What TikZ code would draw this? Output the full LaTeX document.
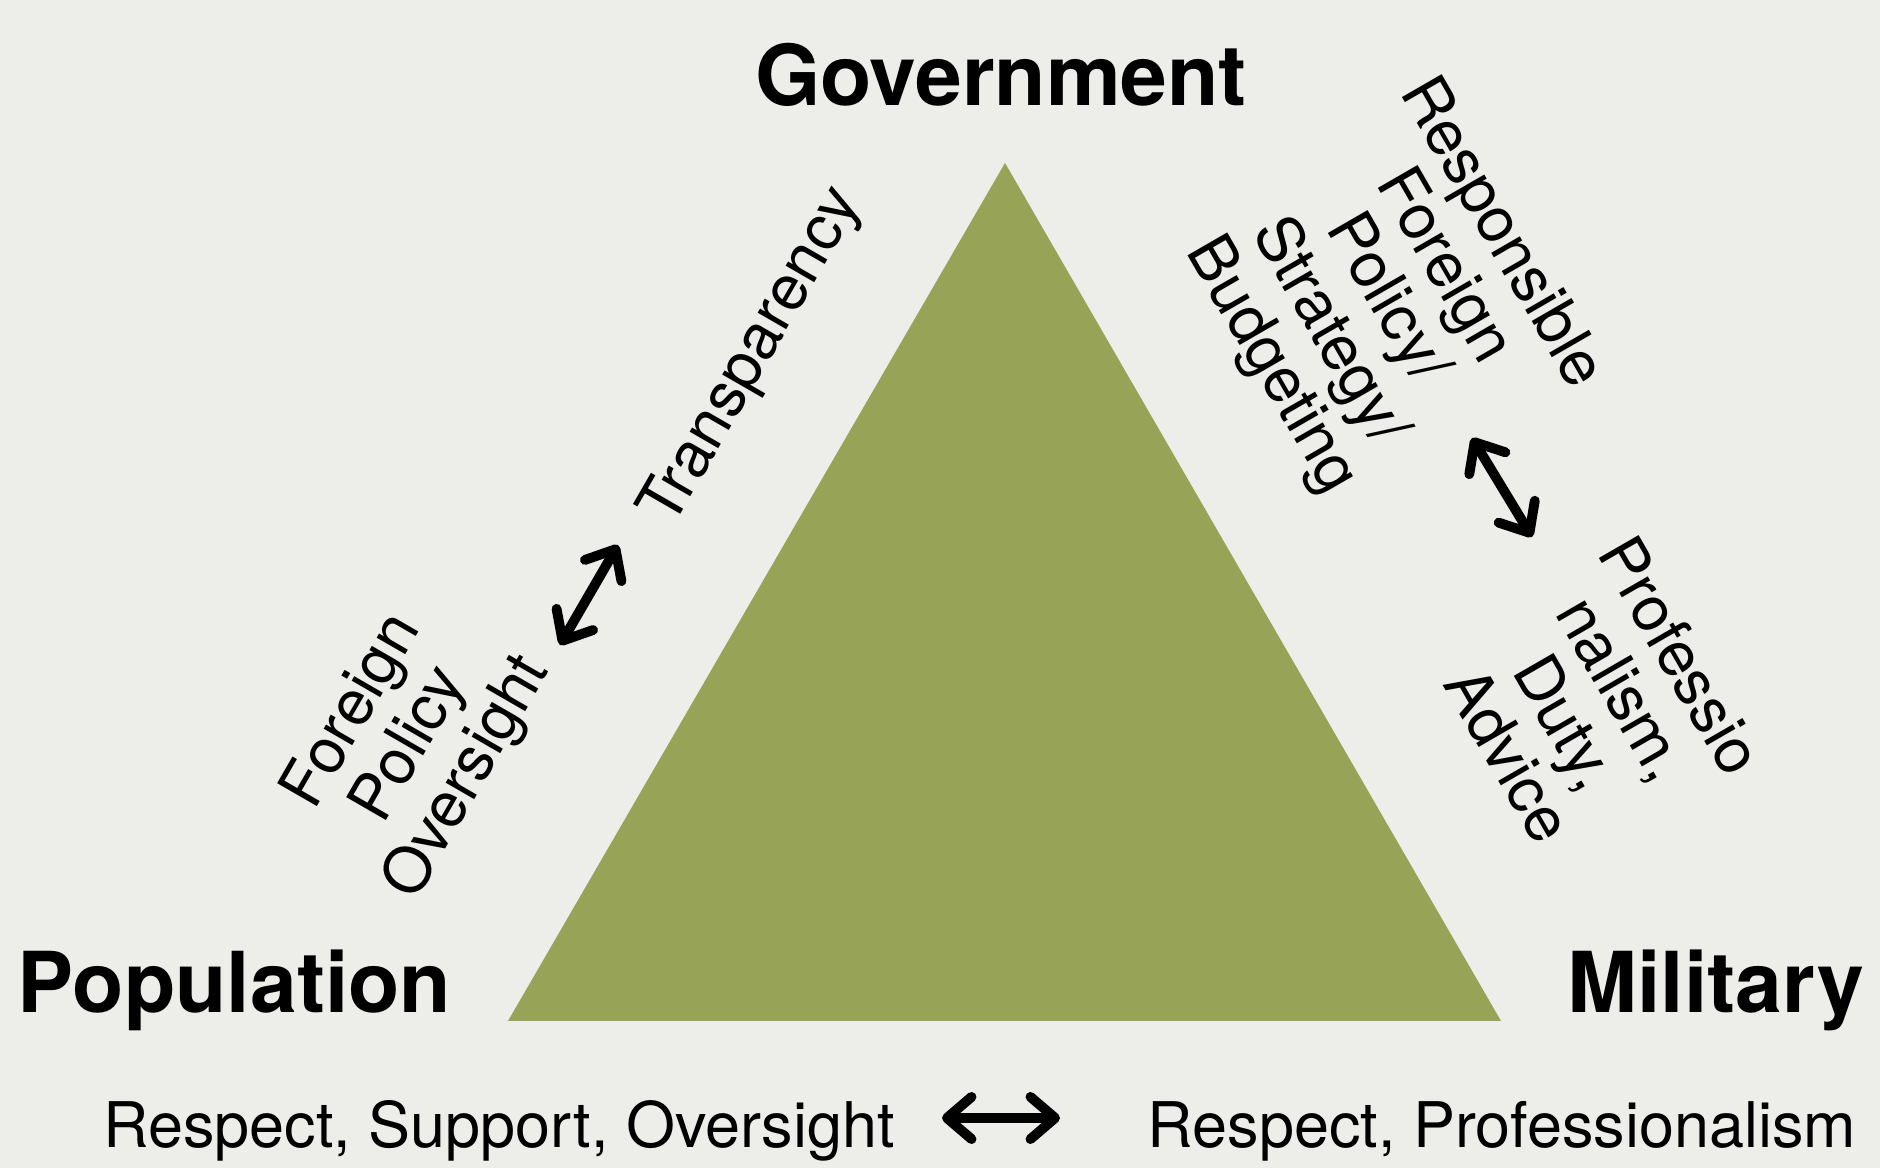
\documentclass[tikz,border=0pt]{standalone}
\usepackage{fontspec}
\setmainfont{TeX Gyre Heros}
\usetikzlibrary{positioning,arrows.meta}
\definecolor{bgcol}{HTML}{EDEDE9}
\definecolor{olive}{HTML}{97A356}

\begin{document}
\begin{tikzpicture}[
            x=0.01cm, y=0.01cm,
            every node/.style={ inner sep=0pt, outer sep=0pt },
            corner/.style={ font=\fontsize{23.9}{26}\selectfont\bfseries },
            duty/.style={ font=\fontsize{17.9}{18.8}\selectfont, align=center },
            link/.style={ line width=2.8pt, line cap=round,
                {Straight Barb[round,length=7pt,width=12pt]}-{Straight Barb[round,length=7pt,width=12pt]} }
        ]

        \fill[bgcol] (0,0) rectangle (1880,1168);
        \useasboundingbox (0,0) rectangle (1880,1168);

        \coordinate (top) at (1005,1005);
        \coordinate (bl) at (508,147);
        \coordinate (br) at (1501,147);
        \fill[olive] (top) -- (bl) -- (br) -- cycle;

        \node[corner, anchor=base] (gov) at (1001,1062) {Government};
        \node[corner, anchor=base west] (pop) at (18,155) {Population};
        \node[corner, anchor=base east] (mil) at (1864,155) {Military};

        \node[duty, anchor=base] (popduty) at (499,20) {Respect, Support, Oversight};
        \node[duty, anchor=base] (milduty) at (1502,20) {Respect, Professionalism};

        \node[duty, rotate=60] (transp) at (753,811) {Transparency};
        \node[duty, rotate=60] (fpo) at (411,423) {Foreign\\Policy\\Oversight};
        \node[duty, rotate=-60] (resp) at (1385,868) {Responsible\\Foreign\\Policy/\\Strategy/\\Budgeting};
        \node[duty, rotate=-60] (prof) at (1595,463) {Professio\\nalism,\\Duty,\\Advice};

        \coordinate (a1) at (942,50);
        \coordinate (a2) at (1060,50);
        \coordinate (l1) at (560,523);
        \coordinate (l2) at (618,623);
        \coordinate (r1) at (1472,730);
        \coordinate (r2) at (1532,631);
        \draw[link] (a1) -- (a2);
        \draw[link] (l1) -- (l2);
        \draw[link] (r1) -- (r2);
    \end{tikzpicture}
\end{document}
